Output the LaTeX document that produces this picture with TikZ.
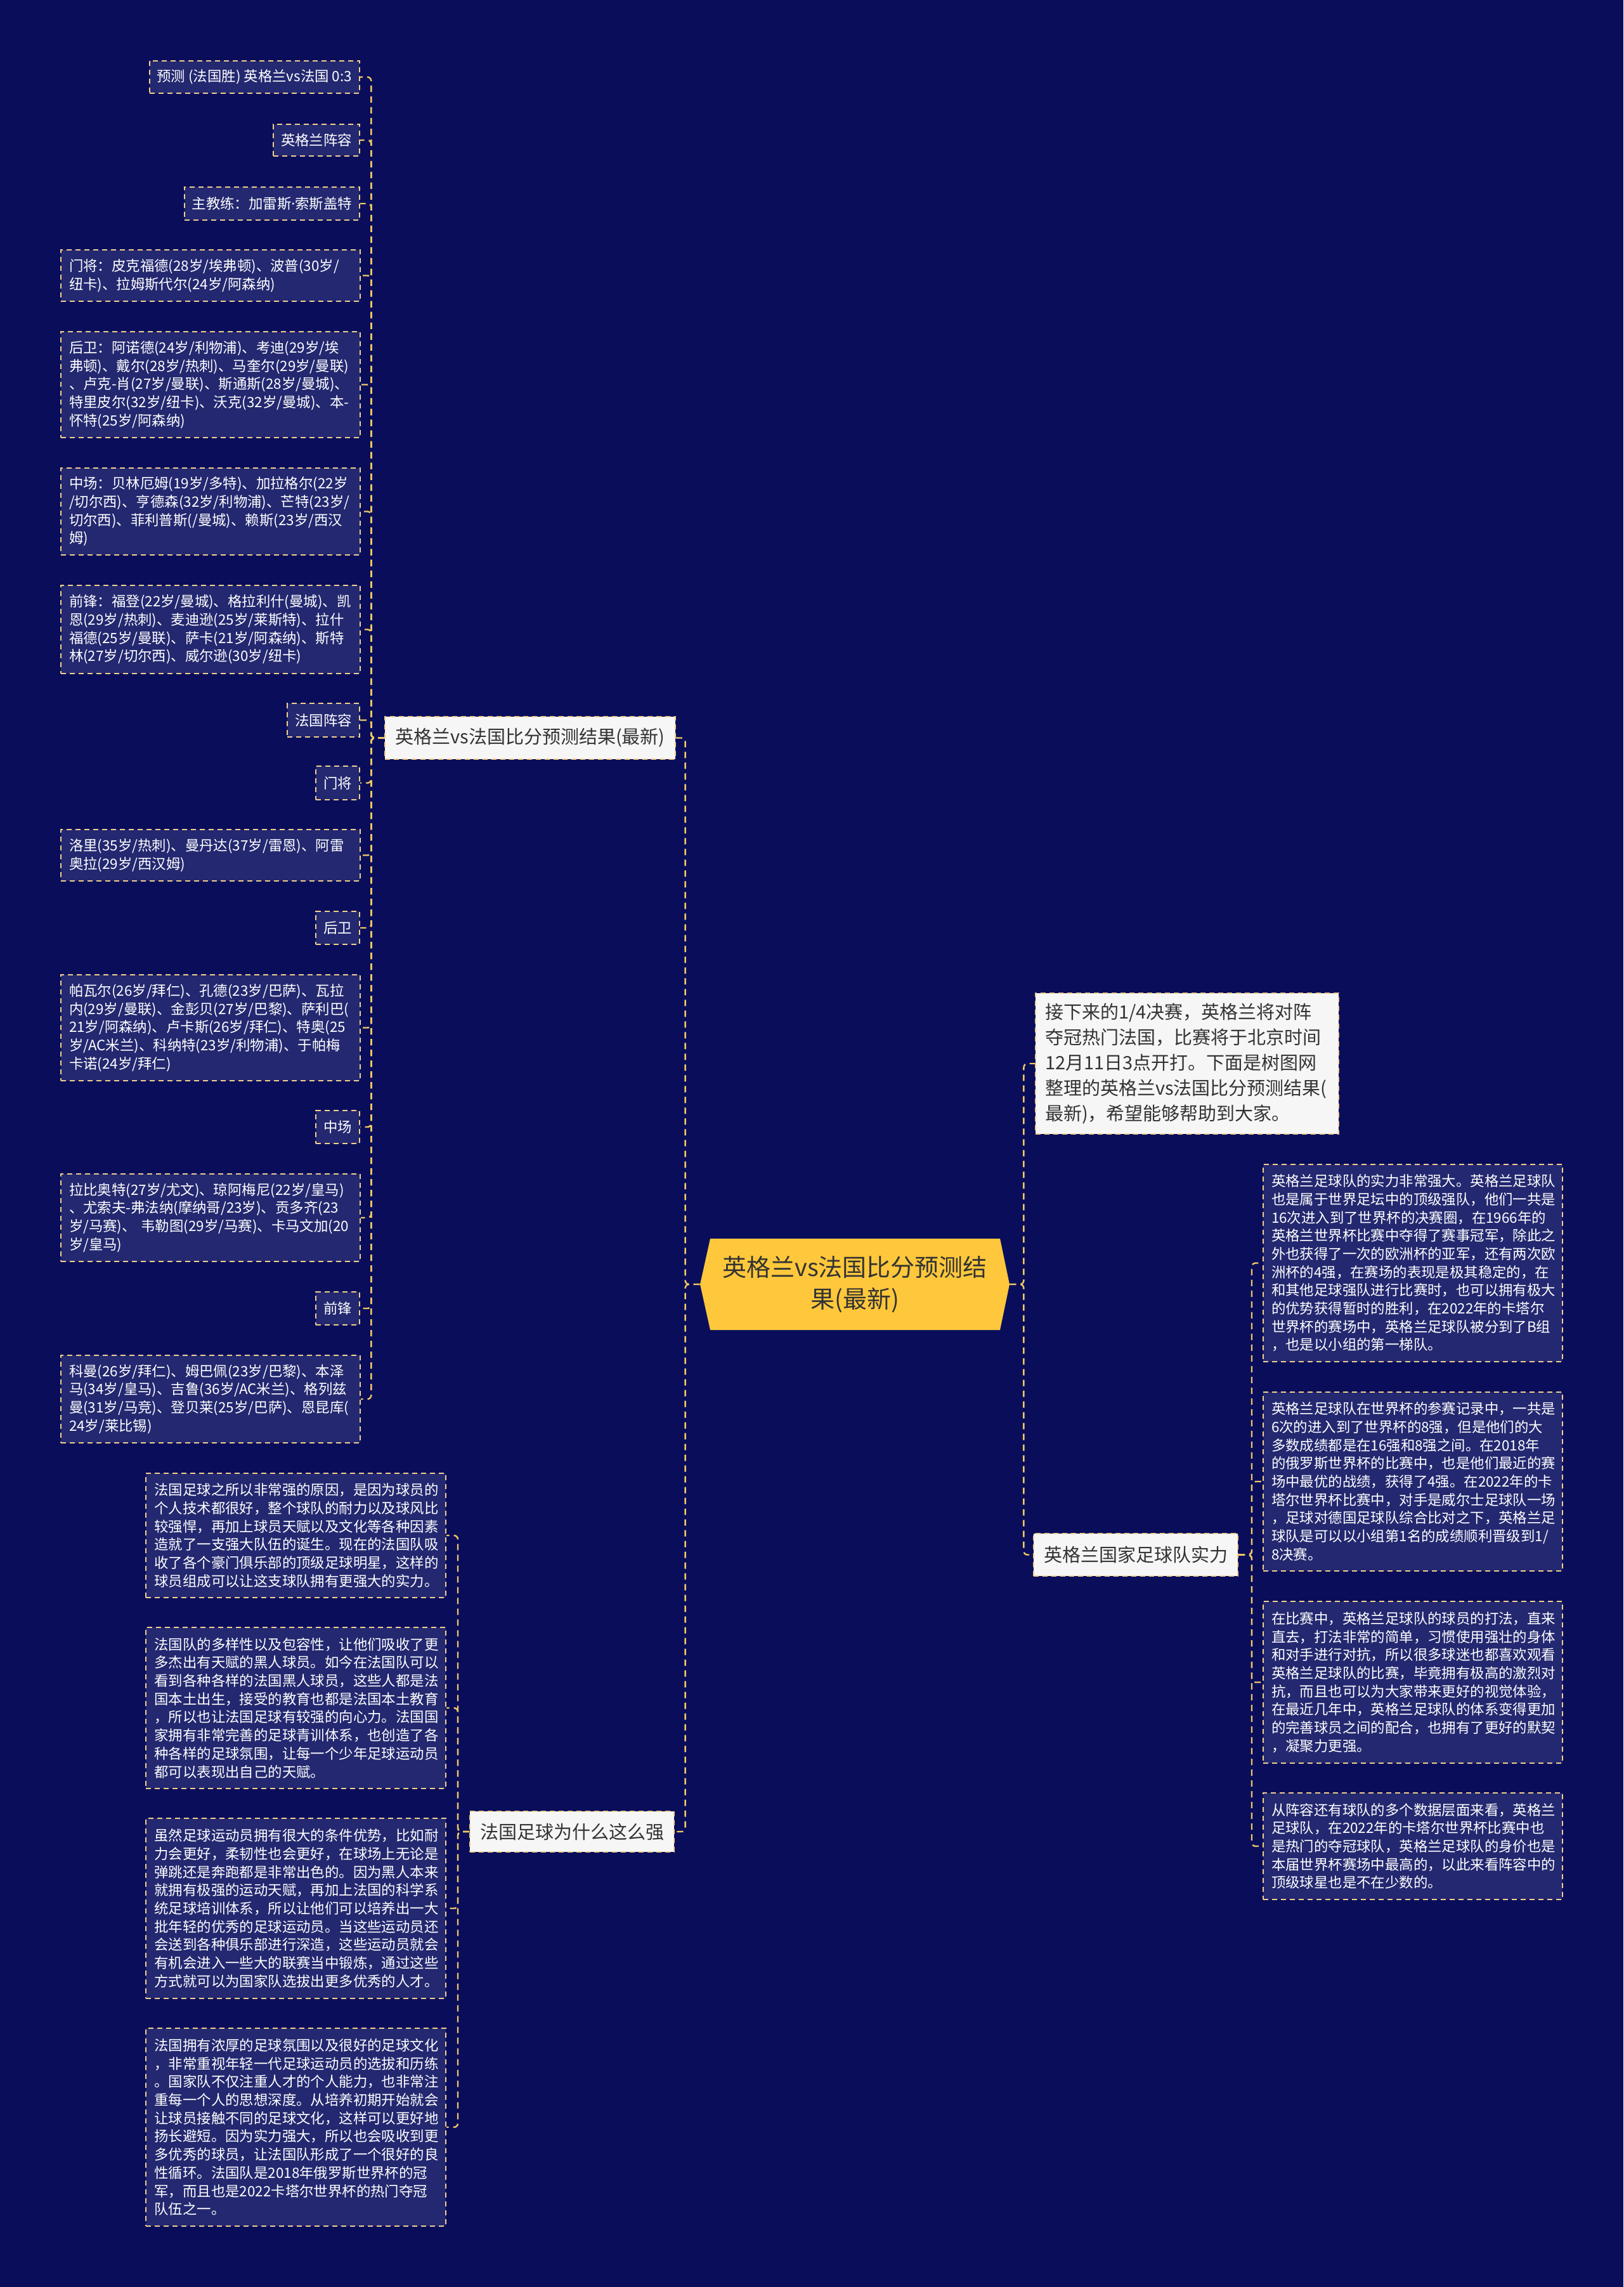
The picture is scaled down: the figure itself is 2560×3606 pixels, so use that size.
\documentclass[tikz,border=0pt]{standalone}
\usepackage{fontspec}
\newfontfamily\cjk{Noto Sans CJK SC}
\newfontfamily\latinf{Noto Sans}
\newcommand\leaffont{\cjk\fontsize{11.2}{14.35}\selectfont\hyphenpenalty=10000 \exhyphenpenalty=10000 }
\definecolor{bgc}{RGB}{10,14,90}
\definecolor{leafc}{RGB}{35,40,112}
\definecolor{bordc}{RGB}{242,206,140}
\definecolor{linec}{RGB}{240,200,100}
\definecolor{whitec}{RGB}{246,246,246}
\definecolor{darkc}{RGB}{51,51,51}
\definecolor{rootc}{RGB}{255,200,60}
\tikzset{
  leaf/.style={draw=bordc, line width=1pt, dash pattern=on 4pt off 3pt, fill=leafc, text=white,
    font=\leaffont, align=left, inner xsep=6pt, inner ysep=0pt},
  wide/.style={inner xsep=6.5pt, text width=223pt, minimum width=236pt},
  topic/.style={draw=bordc, line width=1pt, dash pattern=on 4pt off 3pt, fill=whitec, text=darkc,
    font=\cjk\fontsize{14.5}{20}\selectfont, align=left, inner xsep=8pt, inner ysep=0pt},
  roottext/.style={text=darkc, font=\cjk\fontsize{19}{25}\selectfont, align=center, inner sep=0pt},
  link/.style={draw=linec, line width=1.2pt, dash pattern=on 5pt off 3.5pt, rounded corners=3pt},
}
\begin{document}
\begin{tikzpicture}[x=0.5pt,y=-0.5pt]
\fill[bgc] (0,0) rectangle (2560,3606);
\useasboundingbox (0,0) rectangle (2560,3606);

% root
\fill[rootc] (1104,2025) -- (1120,1953) -- (1577,1953) -- (1592,2025) -- (1577,2097) -- (1120,2097) -- cycle;
\node[roottext, minimum width=244pt, minimum height=72pt] (root) at (1348,2025) {英格兰vs法国比分预测结\\果(最新)};

% level 1
\node[topic, minimum width=227pt, minimum height=33.5pt] (A) at (836,1163.5) {英格兰vs法国比分预测结果(最新)};
\node[topic, minimum width=161pt, minimum height=32pt] (B) at (902,2888) {法国足球为什么这么强};
\node[topic, inner xsep=7.5pt, text width=224pt, minimum width=239pt, minimum height=111pt] (C) at (1872,1677) {接下来的1/4决赛，英格兰将对阵\\夺冠热门法国，比赛将于北京时间\\12月11日3点开打。下面是树图网\\整理的英格兰vs法国比分预测结果(\\最新)，希望能够帮助到大家。};
\node[topic, minimum width=159pt, minimum height=33.5pt] (D) at (1791,2451.5) {英格兰国家足球队实力};

% children of A
\node[leaf, anchor=east, minimum height=25.5pt] (a1) at (568,121.5) {预测 (法国胜) 英格兰vs法国 0:3};
\node[leaf, anchor=east, minimum height=25pt] (a2) at (568,221) {英格兰阵容};
\node[leaf, anchor=east, minimum height=26pt] (a3) at (568,321) {主教练：加雷斯{\latinf ·}索斯盖特};
\node[leaf, wide, minimum height=40.5pt] (a4) at (332,434.5) {门将：皮克福德(28岁/埃弗顿)、波普(30岁/\\纽卡)、拉姆斯代尔(24岁/阿森纳)};
\node[leaf, wide, minimum height=83.5pt] (a5) at (332,606.5) {后卫：阿诺德(24岁/利物浦)、考迪(29岁/埃\\弗顿)、戴尔(28岁/热刺)、马奎尔(29岁/曼联)\\、卢克-肖(27岁/曼联)、斯通斯(28岁/曼城)、\\特里皮尔(32岁/纽卡)、沃克(32岁/曼城)、本-\\怀特(25岁/阿森纳)};
\node[leaf, wide, minimum height=68.5pt] (a6) at (332,806.5) {中场：贝林厄姆(19岁/多特)、加拉格尔(22岁\\/切尔西)、亨德森(32岁/利物浦)、芒特(23岁/\\切尔西)、菲利普斯(/曼城)、赖斯(23岁/西汉\\姆)};
\node[leaf, wide, minimum height=69.5pt] (a7) at (332,992.5) {前锋：福登(22岁/曼城)、格拉利什(曼城)、凯\\恩(29岁/热刺)、麦迪逊(25岁/莱斯特)、拉什\\福德(25岁/曼联)、萨卡(21岁/阿森纳)、斯特\\林(27岁/切尔西)、威尔逊(30岁/纽卡)};
\node[leaf, anchor=east, minimum height=26.5pt] (a8) at (568,1135.5) {法国阵容};
\node[leaf, anchor=east, minimum height=26.5pt] (a9) at (568,1234.5) {门将};
\node[leaf, wide, minimum height=40.5pt] (a10) at (332,1348.5) {洛里(35岁/热刺)、曼丹达(37岁/雷恩)、阿雷\\奥拉(29岁/西汉姆)};
\node[leaf, anchor=east, minimum height=26pt] (a11) at (568,1463) {后卫};
\node[leaf, wide, minimum height=83.5pt] (a12) at (332,1620.5) {帕瓦尔(26岁/拜仁)、孔德(23岁/巴萨)、瓦拉\\内(29岁/曼联)、金彭贝(27岁/巴黎)、萨利巴(\\21岁/阿森纳)、卢卡斯(26岁/拜仁)、特奥(25\\岁/AC米兰)、科纳特(23岁/利物浦)、于帕梅\\卡诺(24岁/拜仁)};
\node[leaf, anchor=east, minimum height=26pt] (a13) at (568,1777) {中场};
\node[leaf, wide, minimum height=69pt] (a14) at (332,1920) {拉比奥特(27岁/尤文)、琼阿梅尼(22岁/皇马)\\、尤索夫-弗法纳(摩纳哥/23岁)、贡多齐(23\\岁/马赛)、~韦勒图(29岁/马赛)、卡马文加(20\\岁/皇马)};
\node[leaf, anchor=east, minimum height=26pt] (a15) at (568,2063) {前锋};
\node[leaf, wide, minimum height=69pt] (a16) at (332,2206) {科曼(26岁/拜仁)、姆巴佩(23岁/巴黎)、本泽\\马(34岁/皇马)、吉鲁(36岁/AC米兰)、格列兹\\曼(31岁/马竞)、登贝莱(25岁/巴萨)、恩昆库(\\24岁/莱比锡)};

% children of B
\node[leaf, wide, minimum width=236.5pt, minimum height=98pt] (b1) at (466.5,2421) {法国足球之所以非常强的原因，是因为球员的\\个人技术都很好，整个球队的耐力以及球风比\\较强悍，再加上球员天赋以及文化等各种因素\\造就了一支强大队伍的诞生。现在的法国队吸\\收了各个豪门俱乐部的顶级足球明星，这样的\\球员组成可以让这支球队拥有更强大的实力。};
\node[leaf, wide, minimum width=236.5pt, minimum height=127pt] (b2) at (466.5,2693) {法国队的多样性以及包容性，让他们吸收了更\\多杰出有天赋的黑人球员。如今在法国队可以\\看到各种各样的法国黑人球员，这些人都是法\\国本土出生，接受的教育也都是法国本土教育\\，所以也让法国足球有较强的向心力。法国国\\家拥有非常完善的足球青训体系，也创造了各\\种各样的足球氛围，让每一个少年足球运动员\\都可以表现出自己的天赋。};
\node[leaf, wide, minimum width=236.5pt, minimum height=142pt] (b3) at (466.5,3009) {虽然足球运动员拥有很大的条件优势，比如耐\\力会更好，柔韧性也会更好，在球场上无论是\\弹跳还是奔跑都是非常出色的。因为黑人本来\\就拥有极强的运动天赋，再加上法国的科学系\\统足球培训体系，所以让他们可以培养出一大\\批年轻的优秀的足球运动员。当这些运动员还\\会送到各种俱乐部进行深造，这些运动员就会\\有机会进入一些大的联赛当中锻炼，通过这些\\方式就可以为国家队选拔出更多优秀的人才。};
\node[leaf, wide, minimum width=236.5pt, minimum height=156pt] (b4) at (466.5,3354) {法国拥有浓厚的足球氛围以及很好的足球文化\\，非常重视年轻一代足球运动员的选拔和历练\\。国家队不仅注重人才的个人能力，也非常注\\重每一个人的思想深度。从培养初期开始就会\\让球员接触不同的足球文化，这样可以更好地\\扬长避短。因为实力强大，所以也会吸收到更\\多优秀的球员，让法国队形成了一个很好的良\\性循环。法国队是2018年俄罗斯世界杯的冠\\军，而且也是2022卡塔尔世界杯的热门夺冠\\队伍之一。};

% children of D
\node[leaf, wide, minimum height=155.5pt] (d1) at (2228,1991.5) {英格兰足球队的实力非常强大。英格兰足球队\\也是属于世界足坛中的顶级强队，他们一共是\\16次进入到了世界杯的决赛圈，在1966年的\\英格兰世界杯比赛中夺得了赛事冠军，除此之\\外也获得了一次的欧洲杯的亚军，还有两次欧\\洲杯的4强，在赛场的表现是极其稳定的，在\\和其他足球强队进行比赛时，也可以拥有极大\\的优势获得暂时的胜利，在2022年的卡塔尔\\世界杯的赛场中，英格兰足球队被分到了B组\\，也是以小组的第一梯队。};
\node[leaf, wide, minimum height=141pt] (d2) at (2228,2336) {英格兰足球队在世界杯的参赛记录中，一共是\\6次的进入到了世界杯的8强，但是他们的大\\多数成绩都是在16强和8强之间。在2018年\\的俄罗斯世界杯的比赛中，也是他们最近的赛\\场中最优的战绩，获得了4强。在2022年的卡\\塔尔世界杯比赛中，对手是威尔士足球队一场\\，足球对德国足球队综合比对之下，英格兰足\\球队是可以以小组第1名的成绩顺利晋级到1/\\8决赛。};
\node[leaf, wide, minimum height=127.5pt] (d3) at (2228,2652.5) {在比赛中，英格兰足球队的球员的打法，直来\\直去，打法非常的简单，习惯使用强壮的身体\\和对手进行对抗，所以很多球迷也都喜欢观看\\英格兰足球队的比赛，毕竟拥有极高的激烈对\\抗，而且也可以为大家带来更好的视觉体验，\\在最近几年中，英格兰足球队的体系变得更加\\的完善球员之间的配合，也拥有了更好的默契\\，凝聚力更强。};
\node[leaf, wide, minimum height=84pt] (d4) at (2228,2911) {从阵容还有球队的多个数据层面来看，英格兰\\足球队，在2022年的卡塔尔世界杯比赛中也\\是热门的夺冠球队，英格兰足球队的身价也是\\本届世界杯赛场中最高的，以此来看阵容中的\\顶级球星也是不在少数的。};

% connectors root
\draw[link] (root.west) -- ++(-23,0) |- (A.east);
\draw[link] (root.west) -- ++(-23,0) |- (B.east);
\draw[link] (root.east) -- ++(22,0) |- (C.west);
\draw[link] (root.east) -- ++(22,0) |- (D.west);
% connectors A
\foreach \n in {a1,a2,a3,a4,a5,a6,a7,a8,a9,a10,a11,a12,a13,a14,a15,a16}
  \draw[link] (A.west) -- ++(-21,0) |- (\n.east);
% connectors B
\foreach \n in {b1,b2,b3,b4}
  \draw[link] (B.west) -- ++(-18,0) |- (\n.east);
% connectors D
\foreach \n in {d1,d2,d3,d4}
  \draw[link] (D.east) -- ++(21,0) |- (\n.west);
\end{tikzpicture}
\end{document}
